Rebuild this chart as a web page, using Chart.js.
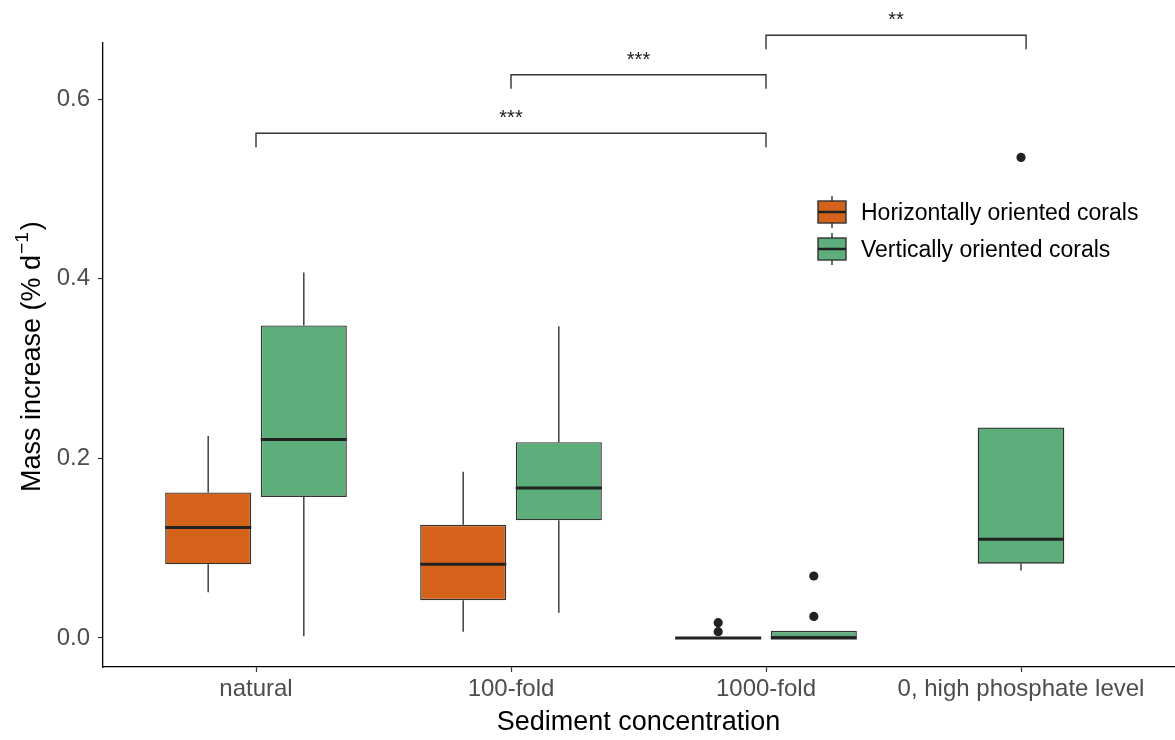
<!DOCTYPE html>
<html>
<head>
<meta charset="utf-8">
<script src="https://cdn.jsdelivr.net/npm/chart.js@4/dist/chart.umd.min.js"></script>
<style>
    html, body { margin: 0; padding: 0; background: #fff; }
</style>
</head>
<body>
<canvas id="chart" width="1175" height="740"></canvas>
<script>
// Categories on the x axis and the two coral groups.
var categories = ['natural', '100-fold', '1000-fold', '0, high phosphate level'];
var groupNames = ['Horizontally oriented corals', 'Vertically oriented corals'];
var groupColors = ['#D5621B', '#5DAE7B'];

// Box statistics, one entry per category (null = no data for that group).
var horizWhiskerLow  = [0.051, 0.007, 0.000, null];
var horizQ1          = [0.082, 0.042, 0.000, null];
var horizMedian      = [0.123, 0.082, 0.000, null];
var horizQ3          = [0.162, 0.126, 0.001, null];
var horizWhiskerHigh = [0.225, 0.185, 0.001, null];
var horizOutliers    = [[], [], [0.017, 0.007], []];

var vertWhiskerLow  = [0.002, 0.028, 0.000, 0.075];
var vertQ1          = [0.157, 0.131, 0.000, 0.083];
var vertMedian      = [0.221, 0.167, 0.000, 0.110];
var vertQ3          = [0.348, 0.218, 0.008, 0.234];
var vertWhiskerHigh = [0.407, 0.347, 0.008, 0.234];
var vertOutliers    = [[], [], [0.069, 0.024], [0.535]];

// Y axis ticks.
var yTicks = [0.0, 0.2, 0.4, 0.6];

// Significance brackets (category positions, height and label).
var bracketFrom   = [1, 2, 3];
var bracketTo     = [3, 3, 4.02];
var bracketHeight = [0.562, 0.627, 0.671];
var bracketLabels = ['***', '***', '**'];

var FONT = "'Liberation Sans', Arial, Helvetica, sans-serif";

var stats = [
    { low: horizWhiskerLow, q1: horizQ1, median: horizMedian, q3: horizQ3, high: horizWhiskerHigh, out: horizOutliers },
    { low: vertWhiskerLow, q1: vertQ1, median: vertMedian, q3: vertQ3, high: vertWhiskerHigh, out: vertOutliers }
];

/**
 * Builds the floating bar datasets (the boxes). Boxes alone in their
 * category go into a separate, ungrouped dataset so they stay centred.
 */
function buildDatasets() {
    var datasets = [], g, c, paired, solo, other;

    for (g = 0; g < stats.length; g++) {
        paired = { label: groupNames[g], data: [], catIndex: [], groupIndex: g };
        solo = { label: groupNames[g], data: [], catIndex: [], groupIndex: g, grouped: false, barThickness: 86 };
        for (c = 0; c < categories.length; c++) {
            if (stats[g].q1[c] === null) {
                continue;
            }
            other = stats[1 - g].q1[c];
            if (other === null) {
                solo.data.push({ x: c + 1, y: [stats[g].q1[c], stats[g].q3[c]] });
                solo.catIndex.push(c);
            } else {
                paired.data.push({ x: c + 1, y: [stats[g].q1[c], stats[g].q3[c]] });
                paired.catIndex.push(c);
            }
        }
        [paired, solo].forEach(function (ds) {
            if (ds.data.length) {
                ds.backgroundColor = groupColors[g];
                ds.borderColor = '#333333';
                ds.borderWidth = 1.4;
                ds.borderSkipped = false;
                ds.categoryPercentage = 0.75;
                ds.barPercentage = 0.9;
                datasets.push(ds);
            }
        });
    }
    return datasets;
}

// Whiskers, medians and outliers on top of the boxes.
var boxExtras = {
    id: 'boxExtras',
    afterDatasetsDraw: function (chart) {
        var ctx = chart.ctx, yScale = chart.scales.y;

        ctx.save();
        chart.data.datasets.forEach(function (ds, d) {
            var meta = chart.getDatasetMeta(d), s = stats[ds.groupIndex];
            meta.data.forEach(function (bar, j) {
                var c = ds.catIndex[j], half = bar.width / 2;

                ctx.strokeStyle = '#333333';
                ctx.lineWidth = 1.4;
                ctx.beginPath();
                ctx.moveTo(bar.x, yScale.getPixelForValue(s.q3[c]));
                ctx.lineTo(bar.x, yScale.getPixelForValue(s.high[c]));
                ctx.moveTo(bar.x, yScale.getPixelForValue(s.q1[c]));
                ctx.lineTo(bar.x, yScale.getPixelForValue(s.low[c]));
                ctx.stroke();

                ctx.strokeStyle = '#222222';
                ctx.lineWidth = 3;
                ctx.beginPath();
                ctx.moveTo(bar.x - half, yScale.getPixelForValue(s.median[c]));
                ctx.lineTo(bar.x + half, yScale.getPixelForValue(s.median[c]));
                ctx.stroke();

                ctx.fillStyle = '#222222';
                s.out[c].forEach(function (v) {
                    ctx.beginPath();
                    ctx.arc(bar.x, yScale.getPixelForValue(v), 4.6, 0, Math.PI * 2);
                    ctx.fill();
                });
            });
        });
        ctx.restore();
    },
    afterDraw: function (chart) {
        var ctx = chart.ctx, xScale = chart.scales.x, yScale = chart.scales.y;
        var i, x1, x2, yy, tip, kx, ky, w1, w2;

        ctx.save();
        // significance brackets
        ctx.strokeStyle = '#333333';
        ctx.lineWidth = 1.4;
        ctx.fillStyle = '#222222';
        ctx.font = '20px ' + FONT;
        ctx.textAlign = 'center';
        ctx.textBaseline = 'alphabetic';
        for (i = 0; i < bracketLabels.length; i++) {
            x1 = xScale.getPixelForValue(bracketFrom[i]);
            x2 = xScale.getPixelForValue(bracketTo[i]);
            yy = yScale.getPixelForValue(bracketHeight[i]);
            tip = yy + 14;
            ctx.beginPath();
            ctx.moveTo(x1, tip);
            ctx.lineTo(x1, yy);
            ctx.lineTo(x2, yy);
            ctx.lineTo(x2, tip);
            ctx.stroke();
            ctx.fillText(bracketLabels[i], (x1 + x2) / 2, yy - 9);
        }

        // legend with boxplot keys
        ctx.font = '23px ' + FONT;
        ctx.textAlign = 'left';
        ctx.textBaseline = 'middle';
        for (i = 0; i < groupNames.length; i++) {
            kx = 818;
            ky = 201 + i * 37;
            ctx.strokeStyle = '#333333';
            ctx.lineWidth = 1.4;
            ctx.beginPath();
            ctx.moveTo(kx + 14, ky - 5);
            ctx.lineTo(kx + 14, ky);
            ctx.moveTo(kx + 14, ky + 22);
            ctx.lineTo(kx + 14, ky + 27);
            ctx.stroke();
            ctx.fillStyle = groupColors[i];
            ctx.fillRect(kx, ky, 28, 22);
            ctx.strokeRect(kx, ky, 28, 22);
            ctx.strokeStyle = '#222222';
            ctx.lineWidth = 2.5;
            ctx.beginPath();
            ctx.moveTo(kx, ky + 11);
            ctx.lineTo(kx + 28, ky + 11);
            ctx.stroke();
            ctx.fillStyle = '#000000';
            ctx.fillText(groupNames[i], 861, ky + 13);
        }

        // y axis title with a real superscript
        ctx.translate(33, 492);
        ctx.rotate(-Math.PI / 2);
        ctx.fillStyle = '#000000';
        ctx.textAlign = 'left';
        ctx.textBaseline = 'middle';
        ctx.font = '27px ' + FONT;
        ctx.fillText('Mass increase (% d', 0, 0);
        w1 = ctx.measureText('Mass increase (% d').width;
        ctx.font = '19px ' + FONT;
        ctx.fillText('\u22121', w1 + 1, -10);
        w2 = ctx.measureText('\u22121').width;
        ctx.font = '27px ' + FONT;
        ctx.fillText(')', w1 + w2 + 3, 0);
        ctx.restore();
    }
};

new Chart(document.getElementById('chart'), {
    type: 'bar',
    data: { datasets: buildDatasets() },
    options: {
        responsive: false,
        animation: false,
        layout: { padding: { top: 43, right: 1, left: 0, bottom: 0 } },
        plugins: {
            legend: { display: false },
            tooltip: { enabled: false }
        },
        scales: {
            x: {
                type: 'linear',
                min: 0.4,
                max: 4.6,
                offset: false,
                afterBuildTicks: function (scale) {
                    scale.ticks = categories.map(function (c, i) { return { value: i + 1 }; });
                },
                afterFit: function (scale) { scale.height = 73; },
                ticks: {
                    callback: function (v) { return categories[v - 1]; },
                    color: '#4D4D4D',
                    font: { family: FONT, size: 24 },
                    padding: 3,
                    maxRotation: 0,
                    autoSkip: false
                },
                grid: { drawOnChartArea: false, offset: false, tickLength: 5, tickColor: '#333333', tickWidth: 1.2 },
                border: { color: '#000000', width: 1.3 },
                title: {
                    display: true,
                    text: 'Sediment concentration',
                    color: '#000000',
                    font: { family: FONT, size: 27 },
                    padding: { top: 0, bottom: 1 }
                }
            },
            y: {
                min: -0.0323,
                max: 0.6624,
                afterBuildTicks: function (scale) {
                    scale.ticks = yTicks.map(function (v) { return { value: v }; });
                },
                afterFit: function (scale) { scale.width = 103; },
                ticks: {
                    callback: function (v) { return v.toFixed(1); },
                    color: '#4D4D4D',
                    font: { family: FONT, size: 24 },
                    padding: 8
                },
                grid: { drawOnChartArea: false, tickLength: 5, tickColor: '#333333', tickWidth: 1.2 },
                border: { color: '#000000', width: 1.3 }
            }
        }
    },
    plugins: [boxExtras]
});
</script>
</body>
</html>
